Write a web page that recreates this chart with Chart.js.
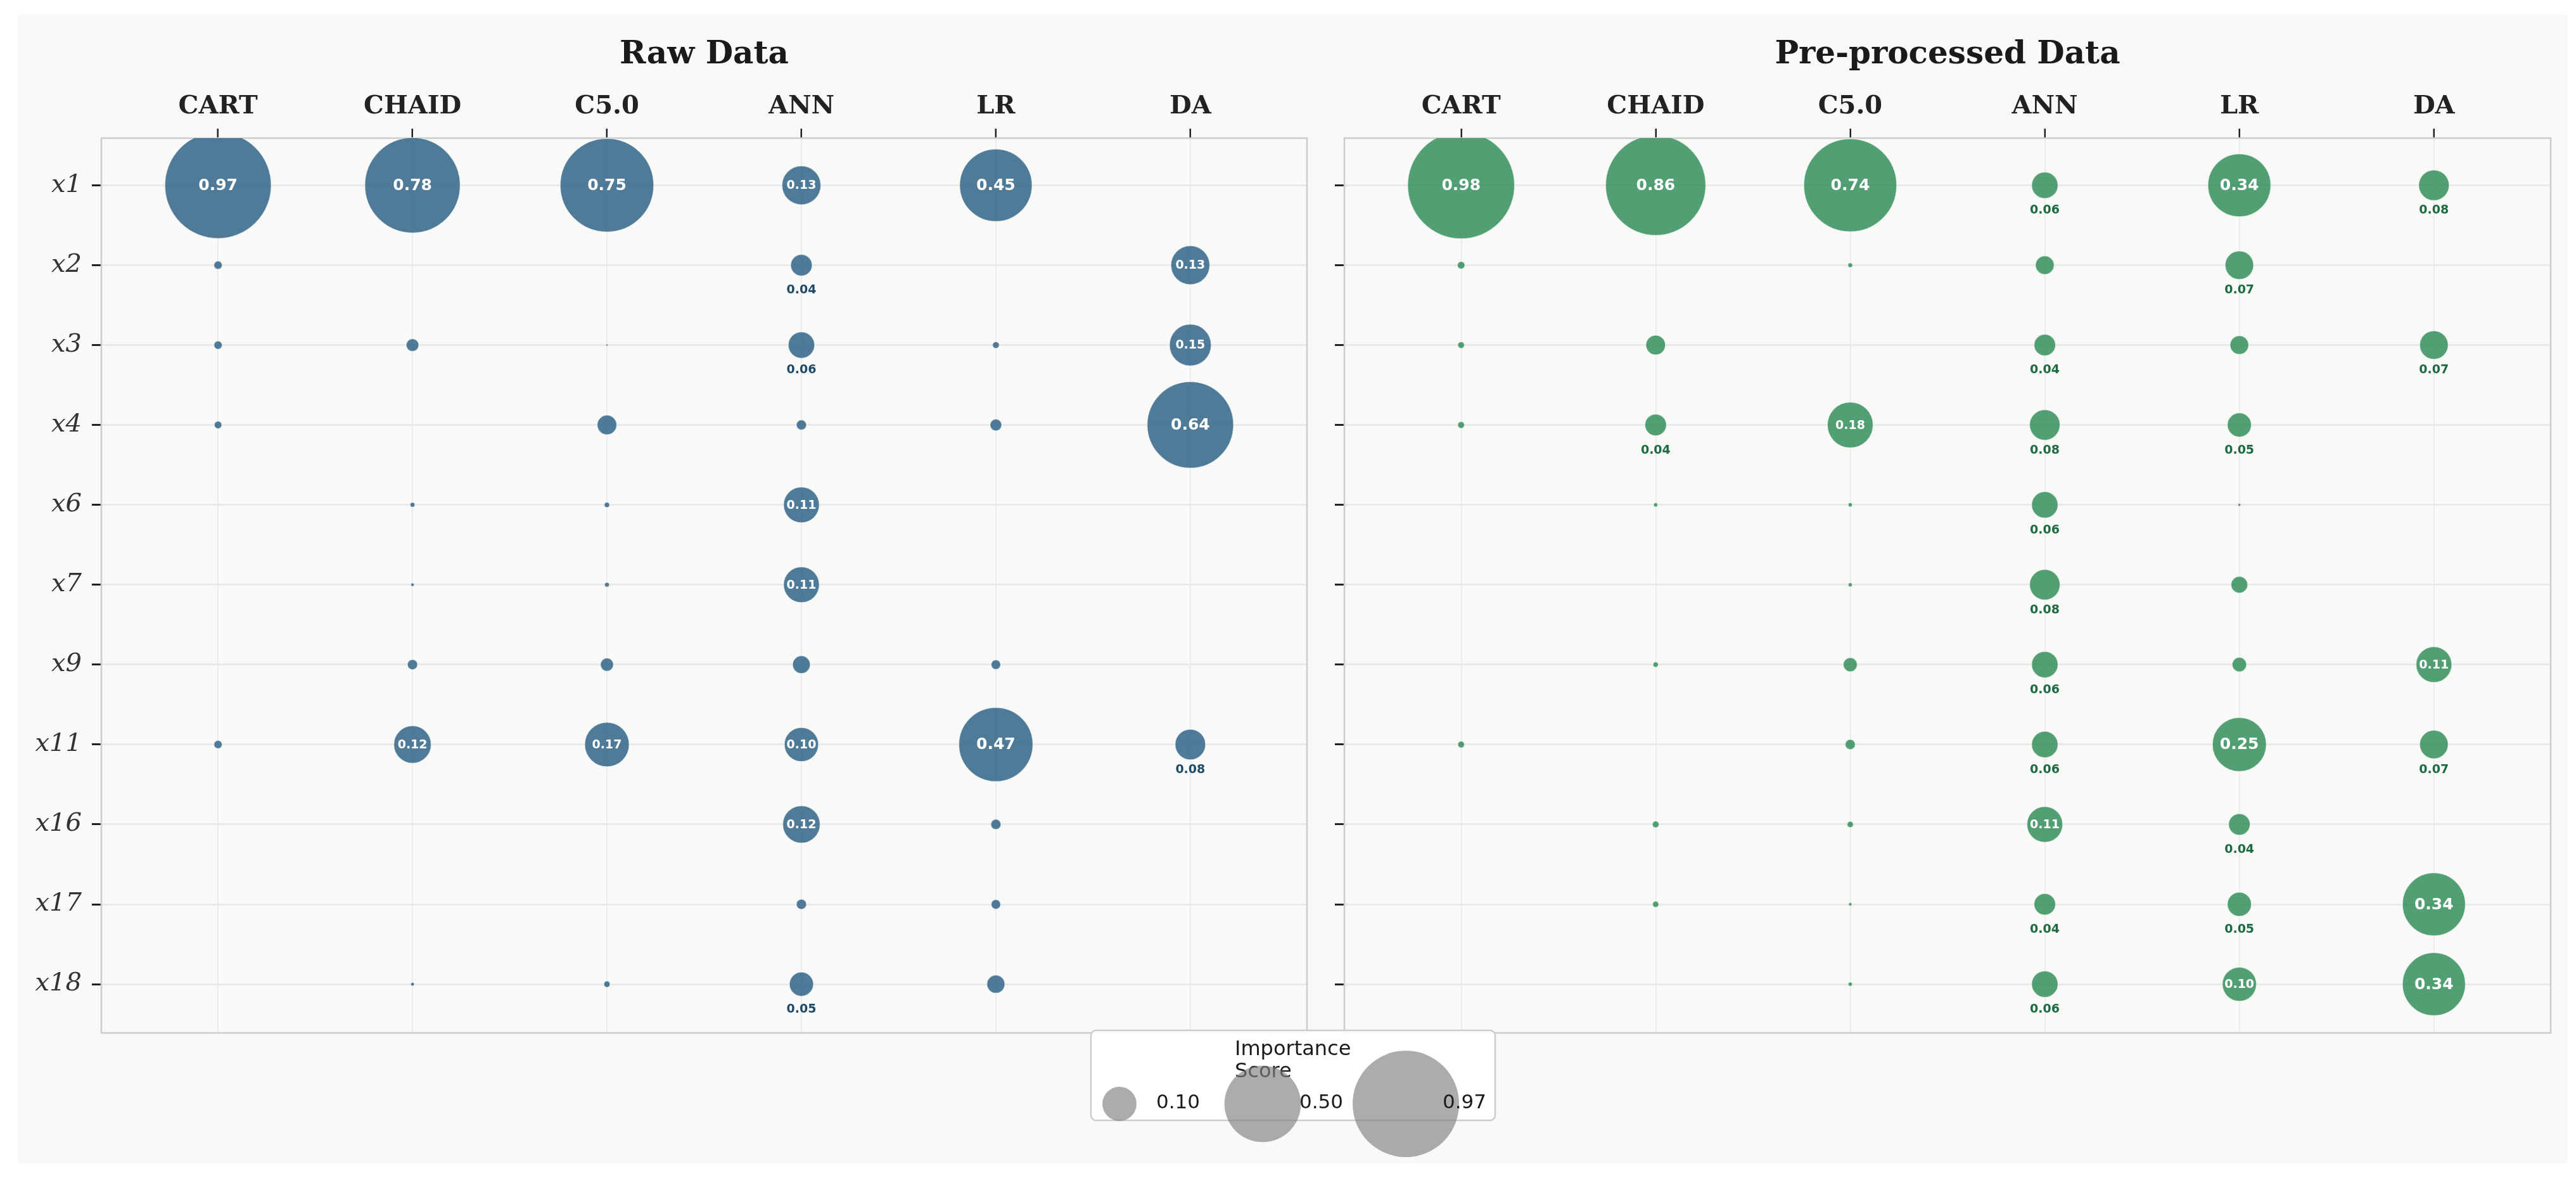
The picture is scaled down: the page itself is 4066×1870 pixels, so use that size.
<!DOCTYPE html>
<html>
<head>
<meta charset="utf-8">
<script src="https://cdn.jsdelivr.net/npm/chart.js@4.4.1/dist/chart.umd.min.js"></script>
<style>
    body { margin: 0; background: #ffffff; }
    #page { position: relative; width: 4066px; height: 1870px; overflow: hidden; }
    #figbg { position: absolute; left: 28px; top: 23px; width: 4025px; height: 1813px; background: #f9f9f7; }
    canvas { position: absolute; }
</style>
</head>
<body>
<div id="page">
    <div id="figbg"></div>
    <canvas id="rawChart" width="2080" height="1700" style="left:0px;top:0px;"></canvas>
    <canvas id="preChart" width="1976" height="1700" style="left:2090px;top:0px;"></canvas>
    <canvas id="legendChart" width="700" height="250" style="left:1700px;top:1600px;"></canvas>
</div>
<script>
// Categories
const models = ['CART', 'CHAID', 'C5.0', 'ANN', 'LR', 'DA'];
const features = ['x1', 'x2', 'x3', 'x4', 'x6', 'x7', 'x9', 'x11', 'x16', 'x17', 'x18'];

// Importance scores, one row per feature, one column per model (0 = no bubble)
const rawScores = [
    [0.97, 0.78, 0.75, 0.13, 0.45, 0],
    [0.006, 0, 0, 0.04, 0, 0.13],
    [0.006, 0.014, 0.0004, 0.06, 0.004, 0.15],
    [0.005, 0, 0.033, 0.009, 0.012, 0.64],
    [0, 0.002, 0.0025, 0.11, 0, 0],
    [0, 0.001, 0.002, 0.11, 0, 0],
    [0, 0.009, 0.015, 0.027, 0.008, 0],
    [0.006, 0.12, 0.17, 0.10, 0.47, 0.08],
    [0, 0, 0, 0.12, 0.009, 0],
    [0, 0, 0, 0.009, 0.008, 0],
    [0, 0.0012, 0.0035, 0.05, 0.028, 0]
];

const preScores = [
    [0.98, 0.86, 0.74, 0.06, 0.34, 0.08],
    [0.005, 0, 0.002, 0.03, 0.07, 0],
    [0.004, 0.033, 0, 0.04, 0.03, 0.07],
    [0.004, 0.04, 0.18, 0.08, 0.05, 0],
    [0, 0.0015, 0.0015, 0.06, 0.0008, 0],
    [0, 0, 0.0015, 0.08, 0.024, 0],
    [0, 0.0025, 0.017, 0.06, 0.018, 0.11],
    [0.004, 0, 0.009, 0.06, 0.25, 0.07],
    [0, 0.004, 0.0035, 0.11, 0.04, 0],
    [0, 0.0035, 0.001, 0.04, 0.05, 0.34],
    [0, 0, 0.0015, 0.06, 0.10, 0.34]
];

// Legend reference sizes
const legendValues = [0.10, 0.50, 0.97];
const legendTitle = ['Importance', 'Score'];

// Bubble area proportional to score
function radiusFor(v) {
    return 84 * Math.sqrt(v / 0.97);
}

function buildPoints(scores) {
    const pts = [];
    scores.forEach((row, i) => {
        row.forEach((v, j) => {
            if (v > 0) pts.push({ x: j, y: i, r: radiusFor(v), v: v });
        });
    });
    return pts;
}

// Frame round the plot area
const framePlugin = {
    id: 'frame',
    beforeDatasetsDraw(chart) {
        const a = chart.chartArea;
        const ctx = chart.ctx;
        ctx.save();
        ctx.strokeStyle = '#cccccc';
        ctx.lineWidth = 2.5;
        ctx.strokeRect(a.left, a.top, a.right - a.left, a.bottom - a.top);
        ctx.restore();
    }
};

// Value labels: white inside big bubbles, coloured below small ones
const valueLabelPlugin = {
    id: 'valueLabels',
    afterDatasetsDraw(chart, args, opts) {
        const ctx = chart.ctx;
        const meta = chart.getDatasetMeta(0);
        ctx.save();
        ctx.textAlign = 'center';
        ctx.textBaseline = 'middle';
        meta.data.forEach((el, idx) => {
            const v = chart.data.datasets[0].data[idx].v;
            const rounded = Math.round(v * 100) / 100;
            const txt = rounded.toFixed(2);
            if (rounded >= 0.10) {
                ctx.fillStyle = '#ffffff';
                ctx.font = (rounded >= 0.2 ? 'bold 25px' : 'bold 19px') + ' "DejaVu Sans"';
                ctx.fillText(txt, el.x, el.y + 1);
            } else if (rounded >= 0.04) {
                ctx.fillStyle = opts.color;
                ctx.font = 'bold 19px "DejaVu Sans"';
                ctx.fillText(txt, el.x, el.y + 40);
            }
        });
        ctx.restore();
    }
};

function makePanel(canvasId, title, scores, fill, labelColor, yAxisWidth, padRight, showYLabels) {
    const ctx = document.getElementById(canvasId).getContext('2d');
    return new Chart(ctx, {
        type: 'bubble',
        data: {
            datasets: [{
                data: buildPoints(scores),
                backgroundColor: fill,
                borderColor: 'rgba(255,255,255,0.6)',
                borderWidth: 1.5,
                clip: 0
            }]
        },
        options: {
            responsive: false,
            devicePixelRatio: 1,
            animation: false,
            events: [],
            layout: { autoPadding: false, padding: { left: 0, top: 0, right: padRight, bottom: 70 } },
            plugins: {
                legend: { display: false },
                tooltip: { enabled: false },
                title: {
                    display: true,
                    text: title,
                    fullSize: false,
                    color: '#1a1a1a',
                    font: { family: 'DejaVu Serif', size: 50, weight: 'bold' },
                    padding: { top: 57, bottom: 13 }
                },
                valueLabels: { color: labelColor }
            },
            scales: {
                x: {
                    type: 'linear',
                    position: 'top',
                    min: -0.6,
                    max: 5.6,
                    afterBuildTicks: s => { s.ticks = models.map((m, i) => ({ value: i })); },
                    afterFit: s => { s.height = 88; },
                    grid: {
                        color: '#e8e8e8',
                        lineWidth: 1.5,
                        tickColor: '#222222',
                        tickWidth: 2.5,
                        tickLength: 15
                    },
                    border: { display: false },
                    ticks: {
                        autoSkip: false,
                        maxRotation: 0,
                        padding: 10,
                        color: '#222222',
                        font: { family: 'DejaVu Serif', size: 40, weight: 'bold' },
                        callback: v => models[v]
                    }
                },
                y: {
                    type: 'linear',
                    reverse: true,
                    min: -0.59,
                    max: 10.61,
                    afterBuildTicks: s => { s.ticks = features.map((f, i) => ({ value: i })); },
                    afterFit: s => { s.width = yAxisWidth; },
                    grid: {
                        color: '#e9e9e7',
                        lineWidth: 3,
                        tickColor: '#222222',
                        tickWidth: 3,
                        tickLength: 15
                    },
                    border: { display: false },
                    ticks: {
                        autoSkip: false,
                        padding: 16,
                        color: '#333333',
                        font: { family: 'DejaVu Serif', size: 40, style: 'italic' },
                        callback: v => showYLabels ? features[v] : ''
                    }
                }
            }
        },
        plugins: [framePlugin, valueLabelPlugin]
    });
}

makePanel('rawChart', 'Raw Data', rawScores, 'rgba(44,98,134,0.83)', '#1f4a68', 160, 17, true);
makePanel('preChart', 'Pre-processed Data', preScores, 'rgba(46,139,87,0.82)', '#1d6b43', 32, 40, false);

// Size legend
const legendBoxPlugin = {
    id: 'legendBox',
    beforeDatasetsDraw(chart) {
        const ctx = chart.ctx;
        ctx.save();
        ctx.beginPath();
        ctx.roundRect(22, 26, 638, 142, 8);
        ctx.fillStyle = 'rgba(255,255,255,0.9)';
        ctx.fill();
        ctx.strokeStyle = '#cccccc';
        ctx.lineWidth = 2.5;
        ctx.stroke();
        ctx.fillStyle = '#1a1a1a';
        ctx.font = '32px "DejaVu Sans"';
        ctx.textAlign = 'left';
        ctx.textBaseline = 'middle';
        ctx.fillText(legendTitle[0], 249, 57);
        ctx.fillText(legendTitle[1], 249, 92);
        ctx.restore();
    },
    afterDatasetsDraw(chart) {
        const ctx = chart.ctx;
        const meta = chart.getDatasetMeta(0);
        ctx.save();
        ctx.fillStyle = '#1a1a1a';
        ctx.font = '31px "DejaVu Sans"';
        ctx.textAlign = 'left';
        ctx.textBaseline = 'middle';
        meta.data.forEach((el, i) => {
            ctx.fillText(legendValues[i].toFixed(2), el.x + 58, el.y - 1);
        });
        ctx.restore();
    }
};

new Chart(document.getElementById('legendChart').getContext('2d'), {
    type: 'bubble',
    data: {
        datasets: [{
            data: legendValues.map((v, i) => ({ x: i, y: 0, r: radiusFor(v) })),
            backgroundColor: 'rgba(128,128,128,0.65)',
            borderWidth: 0,
            clip: false
        }]
    },
    options: {
        responsive: false,
        devicePixelRatio: 1,
        animation: false,
        events: [],
        layout: { autoPadding: false, padding: 0 },
        plugins: { legend: { display: false }, tooltip: { enabled: false } },
        scales: {
            x: { type: 'linear', display: false, min: -67 / 226, max: -67 / 226 + 700 / 226 },
            y: { type: 'linear', display: false, min: -0.432, max: 0.568 }
        }
    },
    plugins: [legendBoxPlugin]
});
</script>
</body>
</html>
